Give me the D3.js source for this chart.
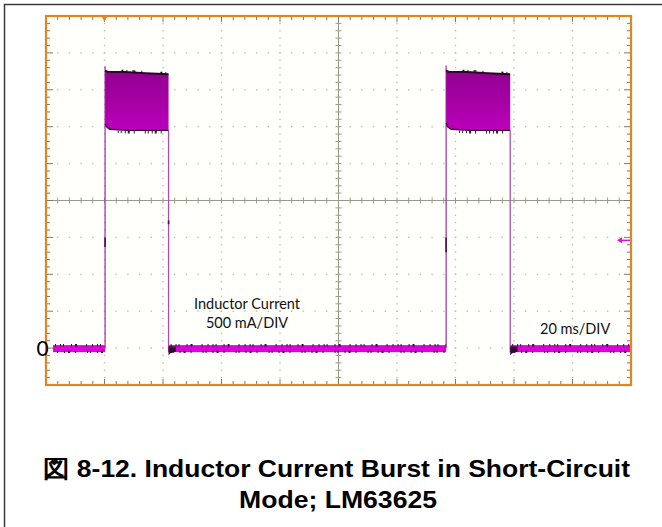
<html>
<head>
    <meta charset="utf-8">
    <title>Inductor Current Burst</title>
</head>
<style>
    body { margin: 0; background: #fff; }
    .note { font-family: Lato, "Open Sans", sans-serif; font-size: 14.5px; fill: #111; }
    .caption { font-family: "Liberation Sans", Arial, sans-serif; font-weight: bold; font-size: 24px; fill: #000; text-anchor: middle; }
</style>
<body>
<script src="https://cdn.jsdelivr.net/npm/d3@7"></script>
<script>
    var width = 662;
    var height = 527;

    // scope settings: 20 ms/div, 500 mA/div, 10 x 10 divisions
    var timeDivs = [0, 20, 40, 60, 80, 100, 120, 140, 160, 180, 200];          // ms
    var currentDivs = [-0.5, 0, 0.5, 1, 1.5, 2, 2.5, 3, 3.5, 4, 4.5];           // A
    var subPerDiv = 5;

    // idle (zero current) segments of the trace, ms
    var idleSegments = [[2.4, 20.2], [41.9, 136.8], [158.7, 200]];
    var idleHigh = 0.04, idleLow = -0.055;

    // bursts: rise / fall time (ms) and envelope of the switching ripple (ms, A)
    var burstRise = [20.2, 136.8];
    var burstFall = [41.9, 158.7];
    var burstSpike = [3.82, 3.83];
    var burstUpper = [
        [[20.2, 3.76], [21, 3.745], [27, 3.74], [34, 3.725], [41.9, 3.71]],
        [[136.8, 3.76], [137.6, 3.745], [144, 3.74], [151, 3.725], [158.7, 3.71]]
    ];
    var burstLower = [
        [[20.2, 3.04], [20.7, 3.0], [21.8, 2.965], [28, 2.952], [41.9, 2.95]],
        [[136.8, 3.05], [137.3, 3.0], [138.5, 2.965], [145, 2.952], [158.7, 2.95]]
    ];
    // dark marks on the edges (ms, A from, A to)
    var edgeMarks = [[20.2, 1.37, 1.5], [41.9, 1.68, 1.73], [136.8, 1.3, 1.5]];

    var triggerTime = 20;     // ms
    var triggerLevel = 1.46;  // A

    var svg = d3.select("body").append("svg")
            .attr("width", width)
            .attr("height", height);

    var x = d3.scaleLinear().domain([0, 200]).range([46, 631]);
    var y = d3.scaleLinear().domain([-0.5, 4.5]).range([385, 16]);

    // outer frame (open on right / bottom)
    svg.append("path")
            .attr("d", "M4.5," + height + "V4.5H" + width)
            .attr("fill", "none")
            .attr("stroke", "#3a3a3a")
            .attr("stroke-width", 1.5);

    var plot = svg.append("g");

    plot.append("rect")
            .attr("x", x(0)).attr("y", y(4.5))
            .attr("width", x(200) - x(0)).attr("height", y(-0.5) - y(4.5))
            .attr("fill", "#fffffc");

    // sub-division positions
    var dt = (timeDivs[1] - timeDivs[0]) / subPerDiv;
    var da = (currentDivs[1] - currentDivs[0]) / subPerDiv;
    var subTimes = [], subCurrents = [];
    timeDivs.forEach(function (t, i) {
        if (i < timeDivs.length - 1)
            for (var k = 0; k < subPerDiv; k++) subTimes.push({v: t + k * dt, major: k === 0});
    });
    subTimes.push({v: timeDivs[timeDivs.length - 1], major: true});
    currentDivs.forEach(function (a, i) {
        if (i < currentDivs.length - 1)
            for (var k = 0; k < subPerDiv; k++) subCurrents.push({v: a + k * da, major: k === 0});
    });
    subCurrents.push({v: currentDivs[currentDivs.length - 1], major: true});

    var centerT = timeDivs[5], centerA = currentDivs[5];

    // dotted grid
    var dots = plot.append("g").attr("fill", "#bdbdb8");
    currentDivs.slice(1, -1).forEach(function (a) {
        if (a === centerA) return;
        dots.selectAll(null)
                .data(subTimes.slice(1, -1))
                .enter().append("rect")
                .attr("x", function (d) { return x(d.v) - 0.7; })
                .attr("y", y(a) - 0.7)
                .attr("width", 1.4).attr("height", 1.4);
    });
    timeDivs.slice(1, -1).forEach(function (t) {
        if (t === centerT) return;
        dots.selectAll(null)
                .data(subCurrents.slice(1, -1))
                .enter().append("rect")
                .attr("x", x(t) - 0.7)
                .attr("y", function (d) { return y(d.v) - 0.7; })
                .attr("width", 1.4).attr("height", 1.4);
    });

    // center cross with ticks
    var cross = plot.append("g").attr("stroke", "#9a9a8a").attr("stroke-width", 1);
    cross.append("line").attr("x1", x(0)).attr("x2", x(200)).attr("y1", y(centerA)).attr("y2", y(centerA));
    cross.append("line").attr("x1", x(centerT)).attr("x2", x(centerT)).attr("y1", y(4.5)).attr("y2", y(-0.5));
    cross.selectAll(".ct").data(subTimes).enter().append("line")
            .attr("x1", function (d) { return x(d.v); }).attr("x2", function (d) { return x(d.v); })
            .attr("y1", y(centerA) - 3).attr("y2", y(centerA) + 3);
    cross.selectAll(".ca").data(subCurrents).enter().append("line")
            .attr("x1", x(centerT) - 3).attr("x2", x(centerT) + 3)
            .attr("y1", function (d) { return y(d.v); }).attr("y2", function (d) { return y(d.v); });

    // edge ticks
    var ticks = plot.append("g").attr("stroke", "#7a7a70").attr("stroke-width", 1);
    ticks.selectAll(".tt").data(subTimes).enter().append("line")
            .attr("x1", function (d) { return x(d.v); }).attr("x2", function (d) { return x(d.v); })
            .attr("y1", y(4.5)).attr("y2", function (d) { return y(4.5) + (d.major ? 6 : 4); });
    ticks.selectAll(".tb").data(subTimes).enter().append("line")
            .attr("x1", function (d) { return x(d.v); }).attr("x2", function (d) { return x(d.v); })
            .attr("y1", y(-0.5)).attr("y2", function (d) { return y(-0.5) - (d.major ? 6 : 4); });
    ticks.selectAll(".tl").data(subCurrents).enter().append("line")
            .attr("x1", x(0)).attr("x2", function (d) { return x(0) + (d.major ? 7 : 4); })
            .attr("y1", function (d) { return y(d.v); }).attr("y2", function (d) { return y(d.v); });
    ticks.selectAll(".tr").data(subCurrents).enter().append("line")
            .attr("x1", x(200)).attr("x2", function (d) { return x(200) - (d.major ? 7 : 4); })
            .attr("y1", function (d) { return y(d.v); }).attr("y2", function (d) { return y(d.v); });

    // ---- trace ----
    var trace = plot.append("g");
    var defs = svg.append("defs");
    var grad = defs.append("linearGradient").attr("id", "burstFill")
            .attr("x1", 0).attr("y1", 0).attr("x2", 0).attr("y2", 1);
    grad.append("stop").attr("offset", "0%").attr("stop-color", "#930092");
    grad.append("stop").attr("offset", "50%").attr("stop-color", "#a500a4");
    grad.append("stop").attr("offset", "100%").attr("stop-color", "#bc00bc");

    var line = d3.line().x(function (d) { return x(d[0]); }).y(function (d) { return y(d[1]); });

    // rise and fall edges
    burstRise.forEach(function (t, i) {
        trace.append("line")
                .attr("x1", x(t)).attr("x2", x(t))
                .attr("y1", y(0)).attr("y2", y(burstSpike[i]))
                .attr("stroke", "#a53aa5").attr("stroke-width", 1.3);
        trace.append("line")
                .attr("x1", x(burstFall[i])).attr("x2", x(burstFall[i]))
                .attr("y1", y(burstLower[i][burstLower[i].length - 1][1])).attr("y2", y(idleLow))
                .attr("stroke", "#b04cb0").attr("stroke-width", 1.3);
    });
    edgeMarks.forEach(function (m) {
        trace.append("line")
                .attr("x1", x(m[0])).attr("x2", x(m[0]))
                .attr("y1", y(m[1])).attr("y2", y(m[2]))
                .attr("stroke", "#4a1040").attr("stroke-width", 1.6);
    });

    // idle band at zero
    idleSegments.forEach(function (s) {
        trace.append("rect")
                .attr("x", x(s[0])).attr("y", y(idleHigh))
                .attr("width", x(s[1]) - x(s[0])).attr("height", y(idleLow) - y(idleHigh))
                .attr("fill", "#dd00dd");
        trace.append("line")
                .attr("x1", x(s[0]) + 2).attr("x2", x(s[1]))
                .attr("y1", y(idleHigh)).attr("y2", y(idleHigh))
                .attr("stroke", "#3c0834").attr("stroke-width", 2.5)
                .attr("stroke-dasharray", "1 4 1 2 1 7 1 3 2 9 1 5");
        trace.append("line")
                .attr("x1", x(s[0]) + 4).attr("x2", x(s[1]))
                .attr("y1", y(idleLow) - 0.5).attr("y2", y(idleLow) - 0.5)
                .attr("stroke", "#3c0834").attr("stroke-width", 2.5)
                .attr("stroke-dasharray", "1 6 1 3 2 5 1 11 1 2");
    });
    // small undershoot just after each burst
    burstFall.forEach(function (t) {
        trace.append("path")
                .attr("d", line([[t, -0.1], [t + 0.6, -0.07], [t + 2.5, -0.05]]) + line([[t + 2.5, 0.02], [t, 0.02]]).replace("M", "L") + "Z")
                .attr("fill", "#2e0a2a");
    });

    // bursts
    burstUpper.forEach(function (up, i) {
        var lo = burstLower[i];
        trace.append("path")
                .attr("d", line(up.concat(lo.slice().reverse())) + "Z")
                .attr("fill", "url(#burstFill)");
        trace.append("path")
                .attr("d", line(up))
                .attr("fill", "none").attr("stroke", "#2a0826").attr("stroke-width", 2);
        trace.append("path")
                .attr("d", line(up.slice(1)))
                .attr("transform", "translate(0,-1.5)")
                .attr("fill", "none").attr("stroke", "#2a0826").attr("stroke-width", 1.5)
                .attr("stroke-dasharray", "0 14 2 3 1 5 3 6 1 4");
        trace.append("path")
                .attr("d", line(lo))
                .attr("fill", "none").attr("stroke", "#3a0c34").attr("stroke-width", 1.4);
        trace.append("path")
                .attr("d", line(lo.slice(2)))
                .attr("transform", "translate(0,2)")
                .attr("fill", "none").attr("stroke", "#3a0c34").attr("stroke-width", 2.5)
                .attr("stroke-dasharray", "0 8 1 2 1 3 1 2 2 4 1 2");
    });

    // orange screen frame
    plot.append("rect")
            .attr("x", x(0)).attr("y", y(4.5))
            .attr("width", x(200) - x(0)).attr("height", y(-0.5) - y(4.5))
            .attr("fill", "none").attr("stroke", "#e38423").attr("stroke-width", 2.2);

    // trigger position marker
    plot.append("path")
            .attr("d", "M" + (x(triggerTime) - 3.5) + "," + (y(4.5) - 1) + "L" + (x(triggerTime) + 3.5) + "," + (y(4.5) - 1) + "L" + x(triggerTime) + "," + (y(4.5) + 6) + "Z")
            .attr("fill", "#e38423");

    // trigger level marker
    plot.append("line")
            .attr("x1", x(200) - 10).attr("x2", x(200) - 1)
            .attr("y1", y(triggerLevel)).attr("y2", y(triggerLevel))
            .attr("stroke", "#e010e0").attr("stroke-width", 1.5);
    plot.append("path")
            .attr("d", "M" + (x(200) - 14) + "," + y(triggerLevel) + "l5,-3v6Z")
            .attr("fill", "#e010e0");

    // ground marker
    svg.append("text")
            .attr("x", 42.5).attr("y", y(0) + 7.5)
            .attr("text-anchor", "middle")
            .style("font-family", "Lato, sans-serif").style("font-size", "21px")
            .text("0");

    // annotations
    svg.append("text").attr("class", "note")
            .attr("x", 247).attr("y", 309).attr("text-anchor", "middle")
            .text("Inductor Current");
    svg.append("text").attr("class", "note")
            .attr("x", 247).attr("y", 328).attr("text-anchor", "middle")
            .text("500 mA/DIV");
    svg.append("text").attr("class", "note")
            .attr("x", 540).attr("y", 334)
            .text("20 ms/DIV");

    // caption
    svg.append("text").attr("class", "caption")
            .style("font-family", "'Liberation Sans', Arial, sans-serif")
            .attr("x", 336.5).attr("y", 477)
            .attr("textLength", 587).attr("lengthAdjust", "spacingAndGlyphs")
            .text("図 8-12. Inductor Current Burst in Short-Circuit");
    svg.append("text").attr("class", "caption")
            .style("font-family", "'Liberation Sans', Arial, sans-serif")
            .attr("x", 338).attr("y", 508)
            .attr("textLength", 198).attr("lengthAdjust", "spacingAndGlyphs")
            .text("Mode; LM63625");
</script>

</body>
</html>
